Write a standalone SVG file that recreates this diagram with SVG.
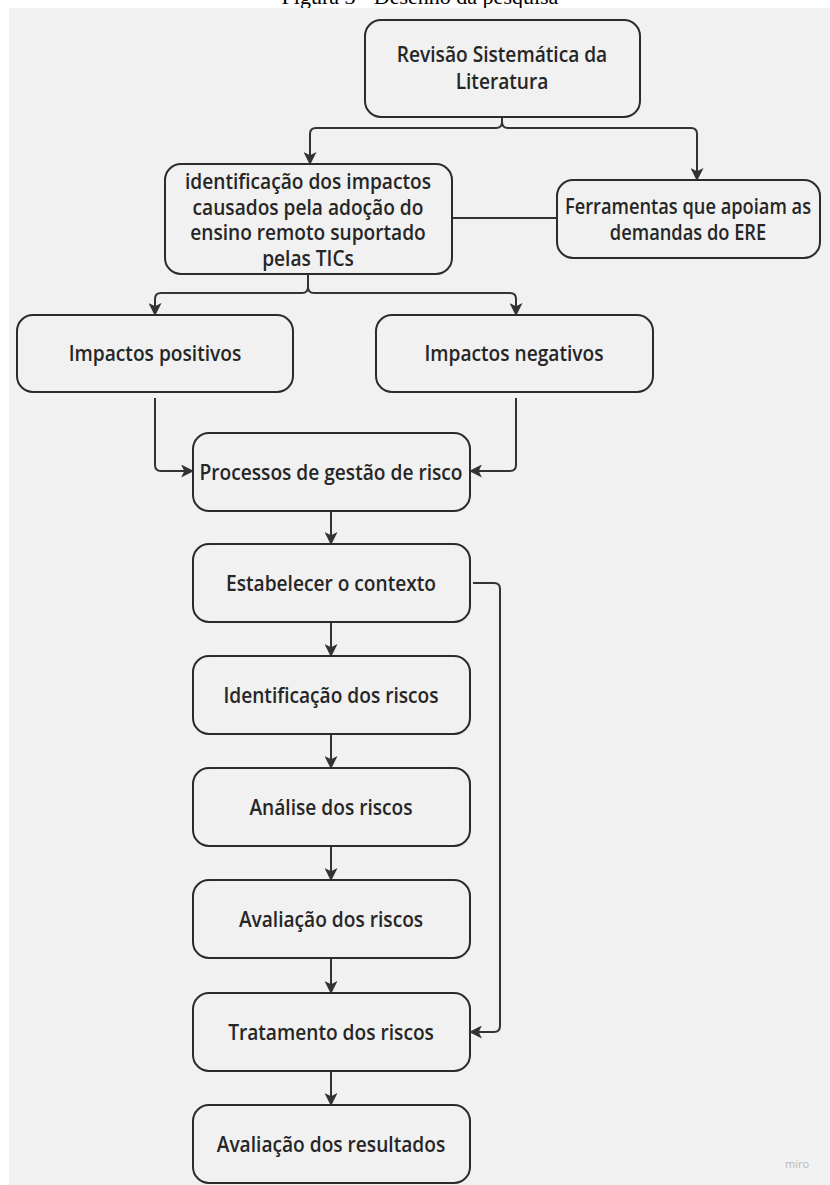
<svg xmlns="http://www.w3.org/2000/svg" width="830" height="1185" viewBox="0 0 830 1185">
<style>
.node rect{fill:#f1f1f1;stroke:#2b2b2b;stroke-width:2}
.node text{font-family:"Open Sans","Noto Sans",sans-serif;font-weight:600;font-size:22px;fill:#262626;text-anchor:middle}
.conn path{fill:none;stroke:#333;stroke-width:2;stroke-linejoin:round}
.cap{font-family:"Liberation Serif",serif;font-size:22px;fill:#000;text-anchor:middle}
</style>
<defs>
<marker id="ah" viewBox="0 0 12 12" refX="11" refY="6" markerWidth="13" markerHeight="13" markerUnits="userSpaceOnUse" orient="auto">
<path d="M0,0 L12,6 L0,12 L3,6 Z" fill="#333"/>
</marker>
</defs>
<rect x="0" y="0" width="830" height="1185" fill="#fff"/>
<text class="cap" x="420" y="4">Figura 3 - Desenho da pesquisa</text>
<rect x="9" y="8" width="821" height="1177" fill="#f1f1f1"/>

<g class="conn">
<path d="M502,117 V122 Q502,128 496,128 H316 Q310,128 310,134 V164" marker-end="url(#ah)"/>
<path d="M502,122 Q502,128 508,128 H691 Q697,128 697,134 V180" marker-end="url(#ah)"/>
<path d="M452,218 H557"/>
<path d="M308,273 V287 Q308,293 302,293 H161 Q155,293 155,299 V315" marker-end="url(#ah)"/>
<path d="M308,287 Q308,293 314,293 H510 Q516,293 516,299 V315" marker-end="url(#ah)"/>
<path d="M155,398 V465 Q155,471 161,471 H193" marker-end="url(#ah)"/>
<path d="M516,398 V465 Q516,471 510,471 H470" marker-end="url(#ah)"/>
<path d="M331,511 V544" marker-end="url(#ah)"/>
<path d="M331,622 V656" marker-end="url(#ah)"/>
<path d="M331,734 V768" marker-end="url(#ah)"/>
<path d="M331,846 V880" marker-end="url(#ah)"/>
<path d="M331,958 V993" marker-end="url(#ah)"/>
<path d="M331,1071 V1105" marker-end="url(#ah)"/>
<path d="M473,583 H494 Q500,583 500,589 V1026 Q500,1032 494,1032 H470" marker-end="url(#ah)"/>
</g>

<g id="n1" class="node"><rect x="365" y="20" width="275" height="97" rx="16"/><g transform="translate(502,0) scale(0.87,1)"><text x="0" y="62">Revisão Sistemática da</text><text x="0" y="89">Literatura</text></g></g>
<g id="n2" class="node"><rect x="165" y="164" width="287" height="110" rx="16"/><g transform="translate(308,0) scale(0.87,1)"><text x="0" y="189">identificação dos impactos</text><text x="0" y="215">causados pela adoção do</text><text x="0" y="240">ensino remoto suportado</text><text x="0" y="266">pelas TICs</text></g></g>
<g id="n3" class="node"><rect x="557" y="180" width="263" height="78" rx="16"/><g transform="translate(688,0) scale(0.83,1)"><text x="0" y="214">Ferramentas que apoiam as</text><text x="0" y="240">demandas do ERE</text></g></g>
<g id="n4" class="node"><rect x="17" y="315" width="276" height="77" rx="16"/><g transform="translate(155,0) scale(0.87,1)"><text x="0" y="361">Impactos positivos</text></g></g>
<g id="n5" class="node"><rect x="376" y="315" width="277" height="77" rx="16"/><g transform="translate(514,0) scale(0.87,1)"><text x="0" y="361">Impactos negativos</text></g></g>
<g id="n6" class="node"><rect x="193" y="433" width="277" height="78" rx="16"/><g transform="translate(331,0) scale(0.87,1)"><text x="0" y="480">Processos de gestão de risco</text></g></g>
<g id="n7" class="node"><rect x="193" y="544" width="277" height="78" rx="16"/><g transform="translate(331,0) scale(0.87,1)"><text x="0" y="591">Estabelecer o contexto</text></g></g>
<g id="n8" class="node"><rect x="193" y="656" width="277" height="78" rx="16"/><g transform="translate(331,0) scale(0.87,1)"><text x="0" y="703">Identificação dos riscos</text></g></g>
<g id="n9" class="node"><rect x="193" y="768" width="277" height="78" rx="16"/><g transform="translate(331,0) scale(0.87,1)"><text x="0" y="815">Análise dos riscos</text></g></g>
<g id="n10" class="node"><rect x="193" y="880" width="277" height="78" rx="16"/><g transform="translate(331,0) scale(0.87,1)"><text x="0" y="927">Avaliação dos riscos</text></g></g>
<g id="n11" class="node"><rect x="193" y="993" width="277" height="78" rx="16"/><g transform="translate(331,0) scale(0.87,1)"><text x="0" y="1040">Tratamento dos riscos</text></g></g>
<g id="n12" class="node"><rect x="193" y="1105" width="277" height="78" rx="16"/><g transform="translate(331,0) scale(0.87,1)"><text x="0" y="1152">Avaliação dos resultados</text></g></g>

<text x="797" y="1168" font-family="Open Sans, sans-serif" font-size="11" fill="#b8b8b8" text-anchor="middle">miro</text>
</svg>
